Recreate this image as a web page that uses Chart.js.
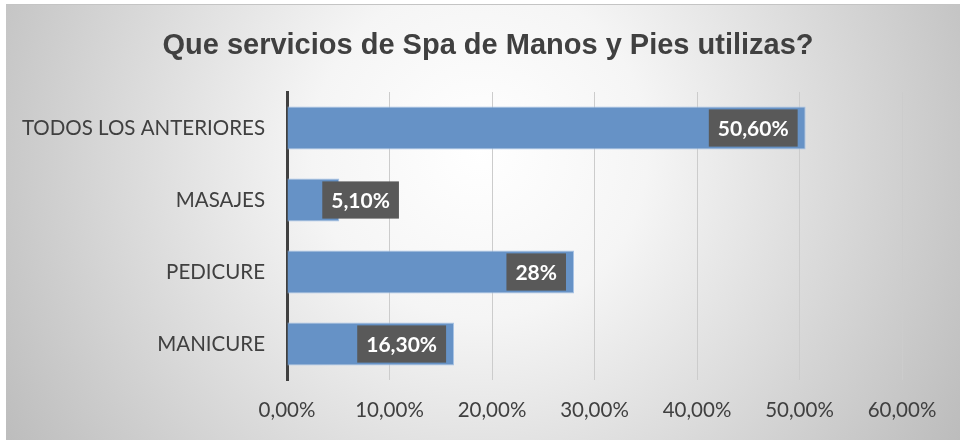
<!DOCTYPE html>
<html><head><meta charset="utf-8">
<script src="https://cdn.jsdelivr.net/npm/chart.js@4/dist/chart.umd.min.js"></script>
<style>html,body{margin:0;padding:0;background:#fff;}#wrap{width:960px;height:440px;}</style>
</head><body><div id="wrap"><canvas id="c" width="960" height="440"></canvas></div>
<script>
const TITLE = 'Que servicios de Spa de Manos y Pies utilizas?';
const categories = ['TODOS LOS ANTERIORES', 'MASAJES', 'PEDICURE', 'MANICURE'];
const values = [50.6, 5.1, 28, 16.3];
const valueLabels = ['50,60%', '5,10%', '28%', '16,30%'];
const tickValues = [0, 10, 20, 30, 40, 50, 60];
const tickLabels = ['0,00%', '10,00%', '20,00%', '30,00%', '40,00%', '50,00%', '60,00%'];

const FONT = 'Lato, "Open Sans", sans-serif';

const bgPlugin = {
  id: 'bg',
  beforeDraw(chart) {
    const ctx = chart.ctx;
    ctx.save();
    ctx.fillStyle = '#ffffff';
    ctx.fillRect(0, 0, 960, 440);
    const g = ctx.createRadialGradient(480, 150, 0, 480, 150, 560);
    g.addColorStop(0, '#ffffff');
    g.addColorStop(0.3, '#f5f5f5');
    g.addColorStop(1, '#bcbcbc');
    ctx.fillStyle = g;
    ctx.fillRect(6, 4, 954, 436);
    ctx.fillStyle = '#c4c4c4';
    ctx.fillRect(6, 4, 954, 1);
    ctx.font = 'bold 29px "Liberation Sans", Arial, sans-serif';
    ctx.fillStyle = '#404040';
    ctx.textAlign = 'center';
    ctx.textBaseline = 'middle';
    ctx.fillText(TITLE, 488, 46);
    ctx.restore();
  }
};

const labelPlugin = {
  id: 'vlabels',
  afterDatasetsDraw(chart) {
    const ctx = chart.ctx;
    const meta = chart.getDatasetMeta(0);
    ctx.save();
    ctx.font = 'bold 21px ' + FONT;
    ctx.textBaseline = 'middle';
    ctx.textAlign = 'center';
    meta.data.forEach((bar, i) => {
      const txt = valueLabels[i];
      const tw = ctx.measureText(txt).width;
      const w = tw + 18;
      const h = bar.height - 6;
      const end = bar.x, base = bar.base;
      let left = end - 8 - w;
      if (left < base + 4) left = end - 17;
      const top = bar.y - h / 2;
      ctx.fillStyle = '#595959';
      ctx.fillRect(left, top, w, h);
      ctx.fillStyle = '#ffffff';
      ctx.fillText(txt, left + w / 2, bar.y + 1);
    });
    ctx.restore();
  }
};

new Chart(document.getElementById('c'), {
  type: 'bar',
  data: {
    labels: categories,
    datasets: [{
      data: values,
      backgroundColor: '#6692C6',
      borderColor: '#A8C3E5',
      borderWidth: 1,
      borderSkipped: 'start',
      categoryPercentage: 1,
      barPercentage: 0.6
    }]
  },
  options: {
    indexAxis: 'y',
    responsive: false,
    animation: false,
    devicePixelRatio: 1,
    layout: { padding: { left: 6, top: 92, right: 58, bottom: 0 } },
    plugins: { legend: { display: false }, tooltip: { enabled: false }, title: { display: false } },
    scales: {
      x: {
        min: 0, max: 60,
        afterBuildTicks(scale) { scale.ticks = tickValues.map(v => ({ value: v })); },
        afterFit(scale) { scale.height = 60; },
        ticks: {
          padding: 18,
          color: '#404040',
          font: { family: FONT, size: 20.5 },
          callback: (v, i) => tickLabels[i]
        },
        grid: { color: '#cccccc', lineWidth: 1, drawTicks: false },
        border: { display: false }
      },
      y: {
        afterFit(scale) { scale.width = 281; },
        ticks: { padding: 22, color: '#404040', font: { family: FONT, size: 20.5 } },
        grid: { display: false, drawTicks: false },
        border: { display: true, color: '#404040', width: 3 }
      }
    }
  },
  plugins: [bgPlugin, labelPlugin]
});
</script>
</body></html>
